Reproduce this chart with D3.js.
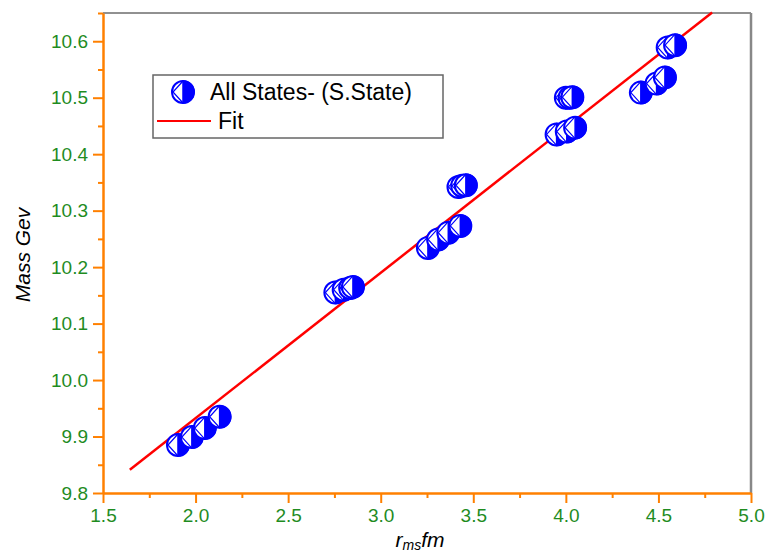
<!DOCTYPE html>
<html>
<head>
<meta charset="utf-8">
<script src="https://cdn.jsdelivr.net/npm/d3@7/dist/d3.min.js"></script>
<style>
	body { margin: 0; background: #fff; }
	text { font-family: "Liberation Sans", Arial, sans-serif; }
</style>
</head>
<body>
<script>
	// data
	var rms  = [1.905, 1.98, 2.05, 2.13, 2.755, 2.80, 2.835, 2.85, 3.255, 3.31, 3.365, 3.43,
				3.42, 3.44, 3.46, 3.95, 4.005, 4.05, 4.0, 4.02, 4.035, 4.405, 4.49, 4.535, 4.55, 4.59];
	var mass = [9.885, 9.899, 9.915, 9.935, 10.155, 10.16, 10.163, 10.165, 10.234, 10.249, 10.261, 10.273,
				10.342, 10.344, 10.345, 10.435, 10.44, 10.447, 10.5, 10.5, 10.501, 10.509, 10.525, 10.536, 10.589, 10.593];
	var fitX = [1.645, 4.79];
	var fitY = [9.841, 10.651];
	var xTicks = [1.5, 2.0, 2.5, 3.0, 3.5, 4.0, 4.5, 5.0];
	var yTicks = [9.8, 9.9, 10.0, 10.1, 10.2, 10.3, 10.4, 10.5, 10.6];
	var legendLabels = ["All States- (S.State)", "Fit"];

	var W = 766, H = 555;
	var pLeft = 103, pRight = 751, pTop = 13, pBottom = 493;
	var orange = "#ff8000", green = "#1f8c1f", blue = "#0000ff", red = "#ff0000";
	var R = 11;

	var svg = d3.select("body").append("svg").attr("width", W).attr("height", H);

	var x = d3.scaleLinear().domain([1.5, 5.0]).range([pLeft, pRight]);
	var y = d3.scaleLinear().domain([9.8, 10.65]).range([pBottom, pTop]);

	// frame top / right
	svg.append("line").attr("x1", pLeft).attr("x2", pRight).attr("y1", pTop).attr("y2", pTop)
		.style("stroke", "#222").style("stroke-width", 1);
	svg.append("line").attr("x1", pRight).attr("x2", pRight).attr("y1", pTop).attr("y2", pBottom)
		.style("stroke", "#888").style("stroke-width", 2.5);

	// minor ticks
	var xMinor = d3.range(1.75, 5.0, 0.5);
	var yMinor = d3.range(9.85, 10.66, 0.1);
	svg.append("g").attr("transform", "translate(0," + pBottom + ")")
		.call(d3.axisBottom(x).tickValues(xMinor).tickSize(5).tickFormat(""))
		.call(function(g){ g.select(".domain").remove(); });
	svg.append("g").attr("transform", "translate(" + pLeft + ",0)")
		.call(d3.axisLeft(y).tickValues(yMinor).tickSize(5).tickFormat(""))
		.call(function(g){ g.select(".domain").remove(); });

	// major axes
	svg.append("g").attr("transform", "translate(0," + pBottom + ")")
		.call(d3.axisBottom(x).tickValues(xTicks).tickSize(10).tickSizeOuter(0).tickPadding(6).tickFormat(d3.format(".1f")));
	svg.append("g").attr("transform", "translate(" + pLeft + ",0)")
		.call(d3.axisLeft(y).tickValues(yTicks).tickSize(10).tickSizeOuter(0).tickPadding(5).tickFormat(d3.format(".1f")));

	svg.selectAll(".tick line").style("stroke", orange).style("stroke-width", 2);
	svg.selectAll(".domain").style("stroke", orange).style("stroke-width", 2.5);
	svg.selectAll(".tick text").style("fill", green).style("font-size", "19px")
		.style("font-family", "'Liberation Sans', Arial, sans-serif");

	// axis titles
	svg.append("text").attr("transform", "translate(30,255) rotate(-90)")
		.attr("text-anchor", "middle").style("font-size", "21px").style("font-style", "italic")
		.text("Mass Gev");
	var xt = svg.append("text").attr("x", 420).attr("y", 547).attr("text-anchor", "middle")
		.style("font-size", "21px").style("font-style", "italic");
	xt.append("tspan").text("r");
	xt.append("tspan").attr("dy", 3).style("font-size", "14px").text("ms");
	xt.append("tspan").attr("dy", -3).text("fm");

	// fit line
	var line = d3.line().x(function(d){ return x(d[0]); }).y(function(d){ return y(d[1]); });
	svg.append("path").datum(d3.zip(fitX, fitY)).attr("d", line)
		.style("fill", "none").style("stroke", red).style("stroke-width", 2.5);

	function marker(g) {
		g.append("circle").attr("r", R).style("fill", "#fff").style("stroke", "none");
		g.append("path").attr("d", "M0," + (-R) + " A" + R + "," + R + " 0 0 1 0," + R + " Z")
			.style("fill", blue).style("stroke", blue).style("stroke-width", 1.5);
		g.append("circle").attr("r", R).style("fill", "none").style("stroke", blue).style("stroke-width", 2);
		g.append("path").attr("d", "M0," + (-R) + " L" + (-R + 1) + ",0 L0," + R)
			.style("fill", "none").style("stroke", blue).style("stroke-width", 1.2);
	}

	// data points
	var pts = d3.zip(rms, mass);
	svg.append("g").selectAll("g").data(pts).enter().append("g")
		.attr("transform", function(d){ return "translate(" + x(d[0]) + "," + y(d[1]) + ")"; })
		.each(function(){ marker(d3.select(this)); });

	// legend
	var lg = svg.append("g");
	lg.append("rect").attr("x", 153).attr("y", 75).attr("width", 290).attr("height", 63)
		.style("fill", "#fff").style("stroke", "#666").style("stroke-width", 1.5);
	marker(lg.append("g").attr("transform", "translate(183,92)"));
	lg.append("text").attr("x", 210).attr("y", 100).style("font-size", "23px").text(legendLabels[0]);
	lg.append("line").attr("x1", 157).attr("x2", 211).attr("y1", 121).attr("y2", 121)
		.style("stroke", red).style("stroke-width", 2);
	lg.append("text").attr("x", 218).attr("y", 129).style("font-size", "23px").text(legendLabels[1]);
</script>
</body>
</html>
